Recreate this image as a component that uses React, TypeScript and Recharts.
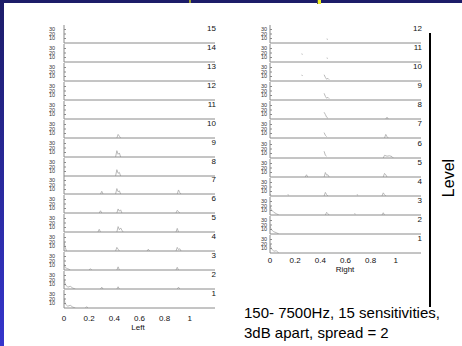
import React from 'react'
import { LineChart, Line, XAxis, YAxis } from 'recharts'

type Pt = [number, number]
type Trace = Pt[][]

const leftLevels = [15, 14, 13, 12, 11, 10, 9, 8, 7, 6, 5, 4, 3, 2, 1]
const rightLevels = [12, 11, 10, 9, 8, 7, 6, 5, 4, 3, 2, 1]
const xTicks = [0, 0.2, 0.4, 0.6, 0.8, 1]
const yTicks = [10, 20, 30]

// one entry per level, top (highest) first; each trace is a list of short segments
const leftTraces: Trace[] = [
  [],
  [],
  [],
  [],
  [],
  [[[0.42, 0], [0.43, 8], [0.44, 4], [0.45, 0]]],
  [[[0.41, 0], [0.42, 14], [0.43, 6], [0.44, 9], [0.45, 0]]],
  [[[0.41, 0], [0.42, 14], [0.43, 6], [0.44, 8], [0.45, 0]]],
  [
    [[0.29, 0], [0.3, 6], [0.31, 0]],
    [[0.41, 0], [0.42, 12], [0.43, 5], [0.44, 7], [0.45, 0]],
    [[0.9, 0], [0.91, 9], [0.92, 3], [0.93, 0]],
  ],
  [
    [[0.28, 0], [0.29, 5], [0.3, 0]],
    [[0.42, 0], [0.43, 9], [0.44, 4], [0.45, 7], [0.46, 0]],
    [[0.89, 0], [0.9, 6], [0.91, 3], [0.92, 0]],
  ],
  [
    [[0.27, 0], [0.28, 6], [0.29, 0]],
    [[0.42, 0], [0.43, 12], [0.44, 5], [0.45, 9], [0.46, 4], [0.47, 0]],
    [[0.89, 0], [0.9, 8], [0.91, 0]],
  ],
  [
    [[0, 20], [0.01, 8], [0.02, 0]],
    [[0.41, 0], [0.42, 8], [0.43, 4], [0.44, 0]],
    [[0.66, 0], [0.67, 4], [0.68, 0]],
    [[0.89, 0], [0.9, 8], [0.91, 3], [0.92, 5], [0.93, 0]],
  ],
  [
    [[0, 14], [0.01, 5], [0.03, 3], [0.05, 0]],
    [[0.2, 0], [0.21, 3], [0.22, 0]],
    [[0.42, 0], [0.43, 7], [0.44, 0]],
    [[0.89, 0], [0.9, 6], [0.91, 0]],
  ],
  [
    [[0, 22], [0.01, 10], [0.03, 4], [0.05, 6], [0.07, 2], [0.09, 0]],
    [[0.29, 0], [0.3, 4], [0.31, 0]],
    [[0.42, 0], [0.43, 5], [0.44, 0]],
    [[0.9, 0], [0.91, 4], [0.92, 0]],
  ],
  [
    [[0, 22], [0.01, 9], [0.03, 4], [0.05, 6], [0.07, 2], [0.09, 0]],
    [[0.17, 0], [0.18, 3], [0.19, 0]],
  ],
]

const rightTraces: Trace[] = [
  [[[0.45, 9], [0.46, 8]]],
  [[[0.25, 18], [0.26, 17]], [[0.45, 9], [0.46, 8]]],
  [[[0.25, 13], [0.26, 12]], [[0.43, 14], [0.44, 8], [0.45, 4], [0.46, 6], [0.47, 3]]],
  [[[0.43, 15], [0.44, 8], [0.45, 4], [0.46, 6], [0.47, 3]]],
  [[[0.43, 15], [0.44, 10], [0.45, 4], [0.46, 2]], [[0.92, 0], [0.93, 4], [0.94, 0]]],
  [[[0.43, 12], [0.44, 6], [0.45, 3]], [[0.91, 0], [0.92, 8], [0.93, 3], [0.94, 0]]],
  [
    [[0.43, 15], [0.44, 6], [0.45, 4]],
    [[0.9, 0], [0.91, 6], [0.93, 4], [0.95, 5], [0.97, 3], [0.98, 0]],
  ],
  [
    [[0.28, 0], [0.29, 5], [0.3, 0]],
    [[0.43, 0], [0.44, 10], [0.45, 4], [0.46, 5], [0.47, 0]],
    [[0.9, 0], [0.91, 8], [0.92, 5], [0.93, 0]],
  ],
  [
    [[0, 4], [0.01, 2]],
    [[0.14, 3], [0.15, 2]],
    [[0.43, 0], [0.44, 8], [0.45, 3], [0.46, 0]],
    [[0.69, 3], [0.7, 2]],
    [[0.89, 0], [0.9, 7], [0.91, 3], [0.92, 0]],
  ],
  [
    [[0, 20], [0.01, 12], [0.03, 6], [0.05, 3], [0.07, 0]],
    [[0.44, 0], [0.45, 6], [0.46, 3], [0.47, 0]],
    [[0.67, 3], [0.68, 2]],
    [[0.89, 0], [0.9, 5], [0.91, 0]],
  ],
  [[[0, 18], [0.01, 10], [0.03, 5], [0.05, 3], [0.07, 0]]],
  [[[0, 20], [0.01, 10], [0.03, 4], [0.05, 5], [0.07, 0]]],
]

function toRows(trace: Trace) {
  const rows: { x: number; y: number | null }[] = [{ x: 0, y: null }]
  trace.forEach(seg => {
    seg.forEach(([x, y]) => rows.push({ x, y }))
    rows.push({ x: seg[seg.length - 1][0] + 0.002, y: null })
  })
  return rows
}

const PLOT_H = 18
const CHART_W = 175
const AXIS = '#8a8a8a'
const FONT = 'Liberation Sans, Arial, sans-serif'

interface RowProps {
  level: number
  trace: Trace
  left: number
  axisY: number
  last: boolean
  yGap: number
  xGap: number
}

function Row({ level, trace, left, axisY, last, yGap, xGap }: RowProps) {
  const lh = last ? 15 : 0
  return (
    <div style={{ position: 'absolute', left, top: axisY - PLOT_H }}>
      <LineChart width={CHART_W} height={PLOT_H + 1 + lh} data={toRows(trace)} margin={{ top: 0, right: 0, bottom: 0, left: 0 }} style={{ overflow: 'visible' }}>
        <XAxis
          type="number"
          dataKey="x"
          domain={[0, 1.2]}
          ticks={xTicks}
          interval={0}
          allowDataOverflow
          height={1}
          axisLine={{ stroke: AXIS, strokeWidth: 1 }}
          tickLine={{ stroke: AXIS }}
          tickSize={-2}
          tick={false}
        />
        {last && (
          <XAxis
            xAxisId="labels"
            type="number"
            dataKey="x"
            domain={[0, 1.2]}
            ticks={xTicks}
            interval={0}
            allowDataOverflow
            height={lh}
            axisLine={false}
            tickLine={false}
            tickSize={0}
            tickMargin={xGap}
            tick={{ fontSize: 8, fill: '#111', fontFamily: FONT }}
          />
        )}
        <YAxis
          type="number"
          domain={[0, 40]}
          ticks={yTicks}
          interval={0}
          allowDataOverflow
          width={24}
          axisLine={{ stroke: AXIS, strokeWidth: 1 }}
          tickLine={{ stroke: AXIS }}
          tickSize={-2}
          tickMargin={yGap}
          tick={{ fontSize: 5.5, fill: '#333', fontFamily: FONT }}
        />
        <Line type="linear" dataKey="y" stroke="#a8a8a8" strokeWidth={0.8} dot={false} connectNulls={false} isAnimationActive={false} />
      </LineChart>
      <span
        style={{
          position: 'absolute', right: -1, top: -1, fontSize: 8, lineHeight: '10px',
          fontFamily: FONT, color: '#111',
        }}
      >
        {level}
      </span>
    </div>
  )
}

export default function App() {
  const leftPitch = 18.93
  const rightPitch = 19.09
  return (
    <div style={{ position: 'absolute', left: 0, top: 0, width: 462, height: 346, background: '#fff', overflow: 'hidden', fontFamily: FONT }}>
      <div style={{ position: 'absolute', left: 0, top: 0, width: 462, height: 3, background: '#1c1c68' }} />
      <div style={{ position: 'absolute', left: 0, top: 0, width: 4, height: 346, background: 'linear-gradient(#1c1c68, #3535cc)' }} />
      <div style={{ position: 'absolute', left: 189, top: 0, width: 2, height: 3, background: '#9c9c30' }} />
      <div style={{ position: 'absolute', left: 317, top: 0, width: 3, height: 4, background: '#f0f020', borderLeft: '1px solid #555' }} />

      {leftLevels.map((lv, i) => (
        <Row key={'l' + lv} level={lv} trace={leftTraces[i]} left={40} axisY={43 + i * leftPitch}
          last={i === leftLevels.length - 1} yGap={11} xGap={6} />
      ))}
      {rightLevels.map((lv, i) => (
        <Row key={'r' + lv} level={lv} trace={rightTraces[i]} left={246} axisY={43 + i * rightPitch}
          last={i === rightLevels.length - 1} yGap={5} xGap={3} />
      ))}

      <div style={{ position: 'absolute', left: 118, top: 323, width: 40, textAlign: 'center', fontSize: 8, lineHeight: '10px', color: '#111' }}>Left</div>
      <div style={{ position: 'absolute', left: 325, top: 265, width: 40, textAlign: 'center', fontSize: 8, lineHeight: '10px', color: '#111' }}>Right</div>

      <div style={{ position: 'absolute', left: 429, top: 33, width: 2, height: 274, background: '#000' }} />
      <div style={{ position: 'absolute', left: 449, top: 178, transform: 'translate(-50%, -50%) rotate(-90deg)', fontSize: 16, lineHeight: '18px', color: '#000', whiteSpace: 'nowrap' }}>Level</div>

      <div style={{ position: 'absolute', left: 244, top: 303, fontSize: 15, lineHeight: '20px', color: '#000', whiteSpace: 'nowrap' }}>
        150- 7500Hz, 15 sensitivities,<br />3dB apart, spread = 2
      </div>
    </div>
  )
}
